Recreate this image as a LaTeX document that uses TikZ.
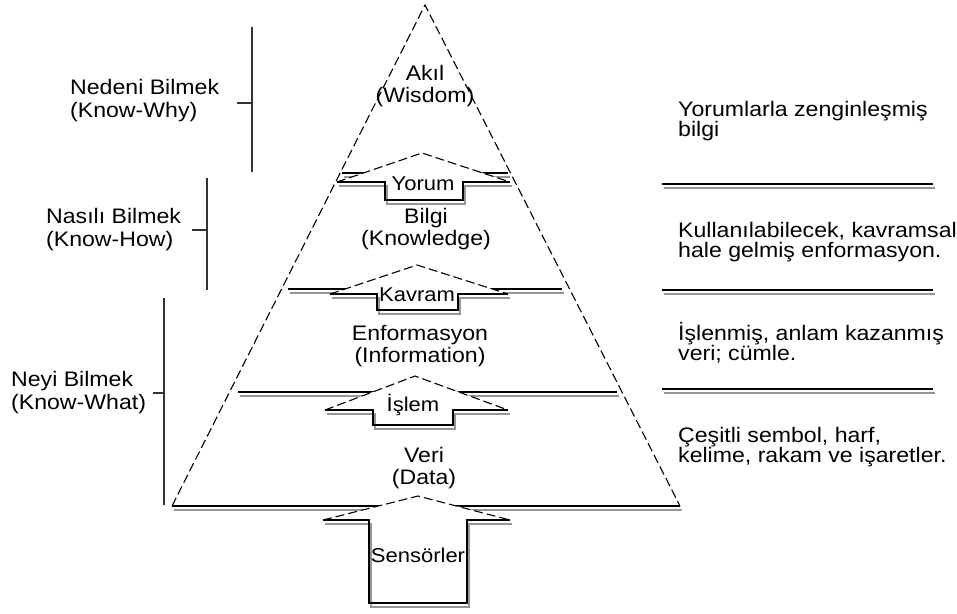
\documentclass[tikz,border=0pt]{standalone}
\usepackage{fontspec}
\setmainfont[FakeStretch=1.1]{Liberation Sans}
\definecolor{shadecol}{RGB}{150,150,150}
\tikzset{
  edge/.style={line width=1.1pt, dash pattern=on 9pt off 4pt},
  level/.style={line width=1.3pt, preaction={draw=shadecol, line width=1.8pt, transform canvas={xshift=2pt,yshift=-4pt}}},
  bracket/.style={line width=1.1pt, black!80},
  lbl/.style={font=\fontsize{21}{22}\selectfont, align=center, inner sep=1pt},
  arrowlbl/.style={font=\fontsize{20}{21}\selectfont, inner sep=1pt},
  side/.style={font=\fontsize{21}{23}\selectfont, align=left, anchor=west, inner sep=0pt},
  desc/.style={font=\fontsize{21}{20}\selectfont, align=left, anchor=west, inner sep=0pt}
}

\begin{document}
\begin{tikzpicture}[x=1pt,y=-1pt]
    \useasboundingbox (0,0) rectangle (957,613);

    % Pyramid outline
    \draw[edge] (172,506) -- (425,5) -- (680,506);
    \draw[level] (172,506) -- (680,506);

    % Level lines inside the pyramid
    \draw[level] (342,173) -- (508,173);
    \draw[level] (288,289) -- (562,289);
    \draw[level] (238,392) -- (617,392);

    % Upward arrows between the levels
    \foreach \cx/\ya/\yw/\xl/\xr/\sl/\sr/\yb in {422/153/182/337/510/385/463/200,
        417/265/294/330/508/377/458/310, 415/376/410/325/508/373/453/425,
        418/496/520/323/510/369/467/603}{
      \fill[white] (\xl,\yw) -- (\cx,\ya) -- (\xr,\yw) -- (\sr,\yw) -- (\sr,\yb) -- (\sl,\yb) -- (\sl,\yw) -- cycle;
      \draw[edge] (\xl,\yw) -- (\cx,\ya) -- (\xr,\yw);
      \draw[level] (\xl,\yw) -- (\sl,\yw) -- (\sl,\yb) -- (\sr,\yb) -- (\sr,\yw) -- (\xr,\yw);
    }

    % Levels of the pyramid
    \node[lbl] (akil) at (425,86) {Akıl\\(Wisdom)};
    \node[lbl] (bilgi) at (426,229) {Bilgi\\(Knowledge)};
    \node[lbl] (enformasyon) at (420,346) {Enformasyon\\(Information)};
    \node[lbl] (veri) at (424,468) {Veri\\(Data)};

    % Arrow labels
    \node[arrowlbl] (yorum) at (423,184) {Yorum};
    \node[arrowlbl] (kavram) at (417,295) {Kavram};
    \node[arrowlbl] (islem) at (413,405) {İşlem};
    \node[arrowlbl] (sensorler) at (418,555) {Sensörler};

    % Kinds of knowing on the left
    \node[side] (why) at (70,101) {Nedeni Bilmek\\(Know-Why)};
    \node[side] (how) at (46,230) {Nasılı Bilmek\\(Know-How)};
    \node[side] (what) at (11,393) {Neyi Bilmek\\(Know-What)};

    \draw[bracket] (252,27) -- (252,172) (237,103) -- (252,103);
    \draw[bracket] (207,178) -- (207,290) (192,230) -- (207,230);
    \draw[bracket] (164,298) -- (164,505) (153,393) -- (164,393);

    % Descriptions on the right
    \node[desc] (d1) at (678,121) {Yorumlarla zenginleşmiş\\bilgi};
    \node[desc] (d2) at (678,242) {Kullanılabilecek, kavramsal\\hale gelmiş enformasyon.};
    \node[desc] (d3) at (678,343) {İşlenmiş, anlam kazanmış\\veri; cümle.};
    \node[desc] (d4) at (678,447) {Çeşitli sembol, harf,\\kelime, rakam ve işaretler.};

    \draw[level] (662,184) -- (933,184);
    \draw[level] (662,290) -- (933,290);
    \draw[level] (662,389) -- (933,389);

\end{tikzpicture}
\end{document}
